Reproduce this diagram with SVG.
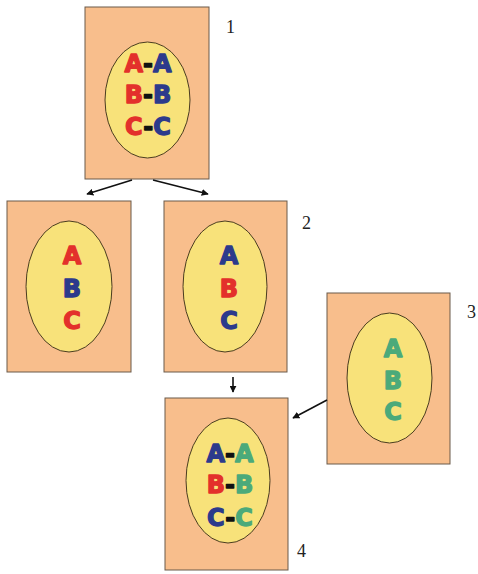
<svg xmlns="http://www.w3.org/2000/svg" width="478" height="574" viewBox="0 0 478 574">
<style>
.box{fill:#F8BE8C;stroke:#6b5a4a;stroke-width:1}
.ell{fill:#F8E27A;stroke:#4a3c20;stroke-width:1}
.t{font-family:"DejaVu Sans",sans-serif;font-weight:bold;font-size:24px;text-anchor:middle;stroke-width:1.3;stroke-linejoin:round}
.r{fill:#E3302B;stroke:#E3302B}
.b{fill:#2C3A8C;stroke:#2C3A8C}
.g{fill:#4BAA7A;stroke:#4BAA7A}
.k{fill:#111;stroke:#111}
.num{font-family:"Liberation Serif",serif;font-size:18px;fill:#222}
.conn{stroke:#111;stroke-width:1.6;fill:none;marker-end:url(#ah)}
</style>
<defs>
<marker id="ah" viewBox="0 0 10 10" refX="9" refY="5" markerWidth="7" markerHeight="7" markerUnits="userSpaceOnUse" orient="auto">
<path d="M0,0 L10,5 L0,10 z" fill="#111"/>
</marker>
</defs>
<rect width="478" height="574" fill="#fff"/>
<g id="node1">
<rect class="box" x="85" y="7" width="124" height="172"/>
<ellipse class="ell" cx="147.5" cy="100" rx="42.5" ry="58"/>
<text class="t" x="148" y="72"><tspan class="r">A</tspan><tspan class="k">-</tspan><tspan class="b">A</tspan></text>
<text class="t" x="148" y="103"><tspan class="r">B</tspan><tspan class="k">-</tspan><tspan class="b">B</tspan></text>
<text class="t" x="148" y="135"><tspan class="r">C</tspan><tspan class="k">-</tspan><tspan class="b">C</tspan></text>
<text class="num" x="226" y="33">1</text>
</g>
<g id="node2a">
<rect class="box" x="7" y="201" width="124" height="171"/>
<ellipse class="ell" cx="69" cy="286.5" rx="43" ry="65.5"/>
<text class="t r" x="72" y="264">A</text>
<text class="t b" x="72" y="297">B</text>
<text class="t r" x="72" y="329">C</text>
</g>
<g id="node2b">
<rect class="box" x="164" y="201" width="123" height="171"/>
<ellipse class="ell" cx="225" cy="286.5" rx="42" ry="65.5"/>
<text class="t b" x="229" y="264">A</text>
<text class="t r" x="229" y="297">B</text>
<text class="t b" x="229" y="329">C</text>
<text class="num" x="302" y="229">2</text>
</g>
<g id="node3">
<rect class="box" x="327" y="293" width="123" height="171"/>
<ellipse class="ell" cx="389.5" cy="378" rx="42.5" ry="65"/>
<text class="t g" x="393" y="357">A</text>
<text class="t g" x="393" y="389">B</text>
<text class="t g" x="393" y="420">C</text>
<text class="num" x="467" y="318">3</text>
</g>
<g id="node4">
<rect class="box" x="165" y="398" width="123" height="172"/>
<ellipse class="ell" cx="228" cy="480.5" rx="42" ry="62.5"/>
<text class="t" x="230" y="462"><tspan class="b">A</tspan><tspan class="k">-</tspan><tspan class="g">A</tspan></text>
<text class="t" x="230" y="493"><tspan class="r">B</tspan><tspan class="k">-</tspan><tspan class="g">B</tspan></text>
<text class="t" x="230" y="526"><tspan class="b">C</tspan><tspan class="k">-</tspan><tspan class="g">C</tspan></text>
<text class="num" x="297" y="557">4</text>
</g>
<g id="connectors">
<line class="conn" x1="132" y1="180" x2="87" y2="194"/>
<line class="conn" x1="153" y1="180" x2="208" y2="194"/>
<line class="conn" x1="233" y1="377" x2="233" y2="392"/>
<line class="conn" x1="327" y1="400" x2="293" y2="418"/>
</g>
</svg>
